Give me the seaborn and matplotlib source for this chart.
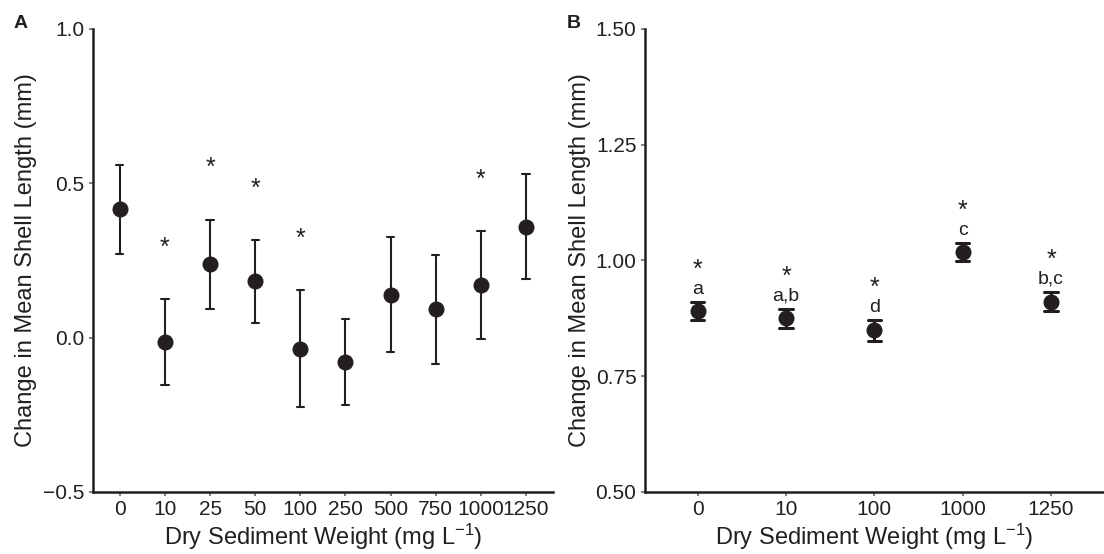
import pandas as pd
import matplotlib.pyplot as plt
import seaborn as sns

# Panel A: all doses
a_doses = ['0', '10', '25', '50', '100', '250', '500', '750', '1000', '1250']
a_mean = [0.415, -0.015, 0.237, 0.182, -0.037, -0.079, 0.139, 0.092, 0.170, 0.359]
a_lower = [0.272, -0.154, 0.093, 0.048, -0.225, -0.220, -0.048, -0.084, -0.006, 0.189]
a_upper = [0.560, 0.125, 0.382, 0.316, 0.154, 0.060, 0.326, 0.268, 0.345, 0.529]
a_star = [False, True, True, True, True, False, False, False, True, False]

# Panel B: selected doses
b_doses = ['0', '10', '100', '1000', '1250']
b_mean = [0.891, 0.875, 0.849, 1.018, 0.911]
b_lower = [0.871, 0.854, 0.826, 0.998, 0.891]
b_upper = [0.911, 0.896, 0.871, 1.038, 0.932]
b_letters = ['a', 'a,b', 'd', 'c', 'b,c']
b_star = [True, True, True, True, True]

INK = '#231f20'


def long_table(doses, lower, mean, upper):
    rows = []
    for d, lo, m, hi in zip(doses, lower, mean, upper):
        for v in (lo, m, hi):
            rows.append({'dose': d, 'value': v})
    return pd.DataFrame(rows)


sns.set_theme(style='ticks')
plt.rcParams['font.family'] = ['Liberation Sans', 'DejaVu Sans']
plt.rcParams['mathtext.fontset'] = 'custom'
plt.rcParams['mathtext.rm'] = 'Liberation Sans'
plt.rcParams['mathtext.it'] = 'Liberation Sans'

fig = plt.figure(figsize=(11.04, 5.54), dpi=100)
axA = fig.add_axes([0.084, 0.112, 0.417, 0.836])
axB = fig.add_axes([0.584, 0.112, 0.416, 0.836])

dfA = long_table(a_doses, a_lower, a_mean, a_upper)
dfB = long_table(b_doses, b_lower, b_mean, b_upper)

sns.pointplot(data=dfA, x='dose', y='value', order=a_doses, ax=axA,
              estimator='median', errorbar=('pi', 100), linestyle='none',
              marker='o', markersize=9.5, color=INK, capsize=0.16,
              err_kws={'linewidth': 1.5})
sns.pointplot(data=dfB, x='dose', y='value', order=b_doses, ax=axB,
              estimator='median', errorbar=('pi', 100), linestyle='none',
              marker='o', markersize=9.5, color=INK, capsize=0.15,
              err_kws={'linewidth': 2.2})

# significance stars / letters
for i, (hi, s) in enumerate(zip(a_upper, a_star)):
    if s:
        axA.annotate('*', xy=(i, hi), xytext=(0, 37), textcoords='offset points',
                     ha='center', va='center', fontsize=18, color=INK)
for i, (hi, lab, s) in enumerate(zip(b_upper, b_letters, b_star)):
    axB.annotate(lab, xy=(i, hi), xytext=(0, 9), textcoords='offset points',
                 ha='center', va='center', fontsize=14, color=INK)
    if s:
        axB.annotate('*', xy=(i, hi), xytext=(0, 23), textcoords='offset points',
                     ha='center', va='center', fontsize=18, color=INK)

axA.set_ylim(-0.5, 1.0)
axA.set_yticks([-0.5, 0.0, 0.5, 1.0])
axA.set_yticklabels(['\u22120.5', '0.0', '0.5', '1.0'])
axA.set_xlim(-0.6, 9.6)
axB.set_ylim(0.5, 1.5)
axB.set_yticks([0.5, 0.75, 1.0, 1.25, 1.5])
axB.set_yticklabels(['0.50', '0.75', '1.00', '1.25', '1.50'])
axB.set_xlim(-0.6, 4.6)

for ax, lp in ((axA, 4), (axB, 3)):
    sns.despine(ax=ax)
    for side in ('left', 'bottom'):
        ax.spines[side].set_linewidth(1.8)
        ax.spines[side].set_color(INK)
    ax.tick_params(axis='both', length=3, width=1.3, color='#777777',
                   labelsize=15, labelcolor=INK, pad=3)
    ax.set_xlabel('Dry Sediment Weight (mg L$^{\u22121}$)', fontsize=17,
                  color=INK, labelpad=2)
    ax.set_ylabel('Change in Mean Shell Length (mm)', fontsize=17,
                  color=INK, labelpad=lp)

fig.text(0.012, 0.957, 'A', fontsize=14, fontweight='bold', color=INK,
         ha='left', va='center')
fig.text(0.513, 0.957, 'B', fontsize=14, fontweight='bold', color=INK,
         ha='left', va='center')

plt.savefig('out.png', dpi=100)
